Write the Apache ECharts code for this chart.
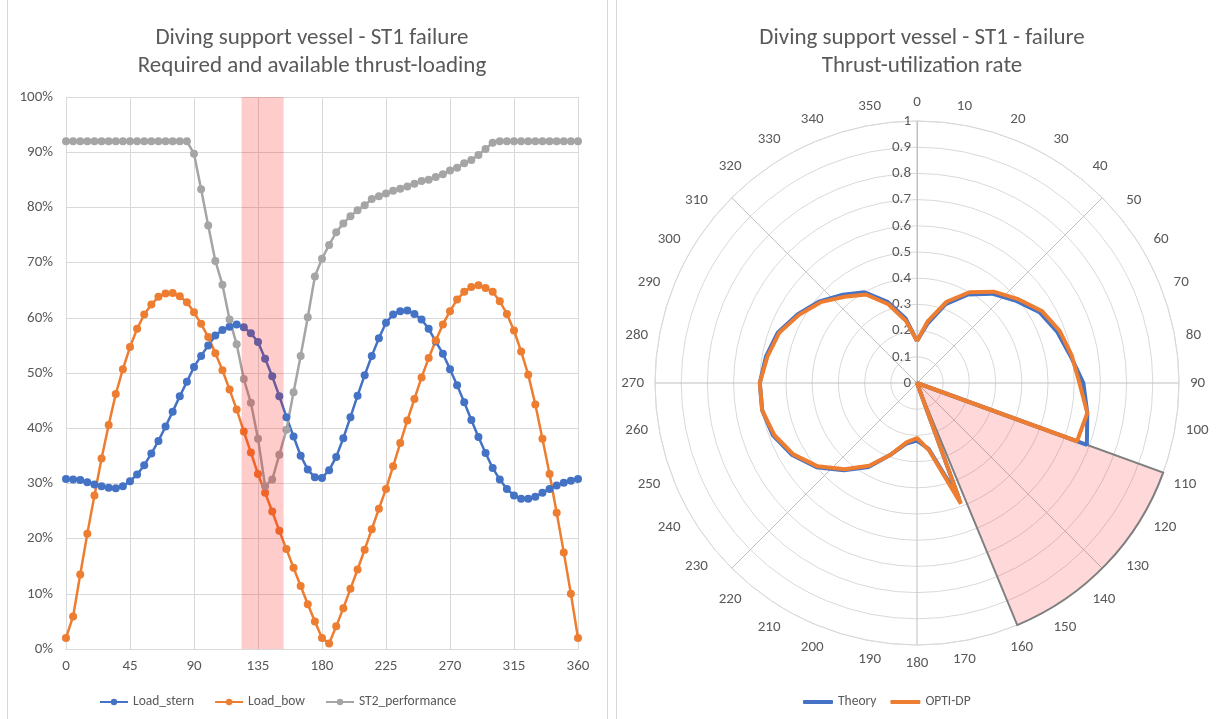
<!DOCTYPE html>
<html>
<head>
<meta charset="utf-8">
<script src="https://cdn.jsdelivr.net/npm/echarts@6/dist/echarts.min.js"></script>
<style>
  html, body { margin: 0; padding: 0; background: #fff; }
  .panel { position: absolute; top: -1px; height: 721px; border: 1px solid #d9d9d9; box-sizing: border-box; }
  #chart { position: absolute; left: 0; top: 0; width: 1217px; height: 719px; }
</style>
</head>
<body>
<div class="panel" style="left:7px;width:601px;"></div>
<div class="panel" style="left:616px;width:605px;"></div>
<div id="chart"></div>
<script>
// left chart: heading in degrees, loads in %
var angles = [0, 5, 10, 15, 20, 25, 30, 35, 40, 45, 50, 55, 60, 65, 70, 75, 80, 85, 90, 95,
  100, 105, 110, 115, 120, 125, 130, 135, 140, 145, 150, 155, 160, 165, 170, 175, 180, 185, 190, 195,
  200, 205, 210, 215, 220, 225, 230, 235, 240, 245, 250, 255, 260, 265, 270, 275, 280, 285, 290, 295,
  300, 305, 310, 315, 320, 325, 330, 335, 340, 345, 350, 355, 360];
var loadStern = [30.8, 30.7, 30.6, 30.2, 29.8, 29.5, 29.2, 29.1, 29.5, 30.4, 31.6, 33.3, 35.4, 37.7, 40.3, 43.0, 45.8, 48.4, 51.1, 53.1,
  55.0, 56.8, 57.8, 58.4, 58.8, 58.3, 57.2, 55.6, 52.6, 49.4, 45.8, 42.0, 38.5, 35.0, 32.5, 31.1, 31.0, 32.4, 34.8, 38.2,
  42.0, 45.9, 49.6, 53.1, 56.3, 59.1, 60.6, 61.2, 61.3, 60.7, 59.7, 58.0, 55.7, 53.5, 50.7, 47.8, 44.7, 41.5, 38.4, 35.5,
  32.8, 30.7, 29.0, 27.8, 27.2, 27.2, 27.6, 28.3, 29.0, 29.6, 30.1, 30.5, 30.8];
var loadBow = [2.0, 5.9, 13.5, 20.9, 27.8, 34.5, 40.6, 46.2, 50.7, 54.7, 58.0, 60.6, 62.4, 63.8, 64.4, 64.5, 63.9, 62.8, 61.0, 58.9,
  56.5, 53.6, 50.5, 47.0, 43.4, 39.4, 35.6, 31.7, 28.3, 24.9, 21.4, 18.1, 14.7, 11.4, 8.1, 5.0, 2.0, 1.0, 4.1, 7.4,
  10.9, 14.4, 18.0, 21.7, 25.4, 29.0, 33.1, 37.3, 41.4, 45.3, 49.2, 52.7, 55.9, 58.8, 61.2, 63.3, 64.7, 65.6, 65.9, 65.4,
  64.7, 63.0, 60.7, 57.7, 53.9, 49.7, 44.3, 38.1, 31.7, 24.7, 17.5, 10.0, 2.0];
var st2Perf = [92, 92, 92, 92, 92, 92, 92, 92, 92, 92, 92, 92, 92, 92, 92, 92, 92, 92, 89.7, 83.3,
  76.7, 70.3, 66.0, 59.7, 55.2, 48.9, 44.6, 38.1, 29.5, 30.7, 35.2, 39.7, 46.5, 53.1, 60.1, 67.5, 70.7, 73.2, 75.5, 77.1,
  78.4, 79.5, 80.4, 81.5, 82.0, 82.5, 83.0, 83.4, 83.8, 84.3, 84.8, 85.0, 85.5, 86.0, 86.7, 87.2, 88.0, 88.6, 89.5, 90.6,
  91.7, 92, 92, 92, 92, 92, 92, 92, 92, 92, 92, 92, 92];
var failBand = [123.5, 153];

// right chart: heading every 10 degrees, utilization rate
var polarAngles = [0, 10, 20, 30, 40, 50, 60, 70, 80, 90, 100, 110, 120, 130, 140, 150, 160, 170, 180,
  190, 200, 210, 220, 230, 240, 250, 260, 270, 280, 290, 300, 310, 320, 330, 340, 350, 360];
var theory = [0.16, 0.23, 0.32, 0.39, 0.445, 0.49, 0.54, 0.57, 0.595, 0.635, 0.66, 0.69, 0, 0, 0, 0, 0.47, 0.255, 0.22,
  0.235, 0.29, 0.37, 0.435, 0.50, 0.55, 0.585, 0.60, 0.60, 0.585, 0.565, 0.525, 0.485, 0.44, 0.40, 0.33, 0.25, 0.16];
var optiDp = [0.16, 0.24, 0.33, 0.40, 0.455, 0.50, 0.55, 0.58, 0.60, 0.62, 0.66, 0.65, 0, 0, 0, 0, 0.49, 0.26, 0.21,
  0.23, 0.29, 0.365, 0.43, 0.495, 0.545, 0.58, 0.60, 0.60, 0.58, 0.56, 0.52, 0.48, 0.43, 0.39, 0.32, 0.24, 0.16];
var failSector = [1, 110, 157.5];

var FONT = 'Carlito, "Liberation Sans Narrow", "Liberation Sans", sans-serif';
var TXT = '#595959';

function pairs(xs, ys) {
  return xs.map(function (x, i) { return [x, ys[i]]; });
}
function polarPairs(as, rs) {
  return as.map(function (a, i) { return [rs[i], a]; });
}

var chart = echarts.init(document.getElementById('chart'));

var lineStyleSeries = function (name, data, color) {
  return {
    name: name, type: 'line', xAxisIndex: 0, yAxisIndex: 0,
    data: data, symbol: 'circle', symbolSize: 8,
    lineStyle: { color: color, width: 2.5 },
    itemStyle: { color: color },
    z: 2
  };
};

var titleStyle = { fontSize: 23, fontWeight: 'normal', color: TXT, lineHeight: 28, fontFamily: FONT };

chart.setOption({
  animation: false,
  textStyle: { fontFamily: FONT },
  title: [{
    text: 'Diving support vessel - ST1 failure\nRequired and available thrust-loading',
    left: 307, top: 19, textAlign: 'center', textStyle: titleStyle
  }, {
    text: 'Diving support vessel - ST1 - failure\nThrust-utilization rate',
    left: 917, top: 19, textAlign: 'center', textStyle: titleStyle
  }],
  legend: [{
    data: ['Load_stern', 'Load_bow', 'ST2_performance'],
    left: 94, top: 690, itemWidth: 28, itemHeight: 8, itemGap: 20,
    textStyle: { fontSize: 13.5, color: TXT, fontFamily: FONT }
  }, {
    data: ['Theory', 'OPTI-DP'],
    left: 798, top: 690, itemWidth: 30, itemHeight: 4, itemGap: 14, icon: 'roundRect',
    textStyle: { fontSize: 13.5, color: TXT, fontFamily: FONT }
  }],
  grid: { left: 66, right: 639, top: 97, bottom: 70 },
  xAxis: {
    type: 'value', min: 0, max: 360, interval: 45,
    axisLine: { lineStyle: { color: '#d9d9d9' } },
    axisTick: { show: false },
    axisLabel: { color: TXT, fontSize: 15, margin: 10 },
    splitLine: { show: true, lineStyle: { color: '#d9d9d9' } }
  },
  yAxis: {
    type: 'value', min: 0, max: 100, interval: 10,
    axisLine: { show: false }, axisTick: { show: false },
    axisLabel: { color: TXT, fontSize: 15, margin: 13, formatter: '{value}%' },
    splitLine: { lineStyle: { color: '#d9d9d9' } }
  },
  polar: [
    { center: [917, 383], radius: 262 },
    { center: [917, 383], radius: 262 }
  ],
  angleAxis: [{
    polarIndex: 0, type: 'value', min: 0, max: 360, interval: 10,
    startAngle: 90, clockwise: true,
    axisLine: { lineStyle: { color: '#d9d9d9' } },
    axisTick: { show: false },
    axisLabel: { color: TXT, fontSize: 15, margin: 11,
      formatter: function (v) { return v === 360 ? '' : String(v); } },
    splitLine: { show: false }
  }, {
    polarIndex: 1, type: 'value', min: 0, max: 360, interval: 45,
    startAngle: 90, clockwise: true,
    axisLine: { show: false }, axisTick: { show: false }, axisLabel: { show: false },
    splitLine: { show: true, lineStyle: { color: '#bfbfbf' } }
  }],
  radiusAxis: [{
    polarIndex: 0, type: 'value', min: 0, max: 1, interval: 0.1,
    axisLine: { lineStyle: { color: '#bfbfbf' } },
    axisTick: { show: false },
    axisLabel: { color: TXT, fontSize: 15, margin: 6 },
    splitLine: { show: true, lineStyle: { color: '#d9d9d9' } }
  }, {
    polarIndex: 1, type: 'value', min: 0, max: 1, show: false,
    splitLine: { show: false }
  }],
  series: [
    lineStyleSeries('Load_stern', pairs(angles, loadStern), '#4472c4'),
    lineStyleSeries('Load_bow', pairs(angles, loadBow), '#ed7d31'),
    lineStyleSeries('ST2_performance', pairs(angles, st2Perf), '#a5a5a5'),
    {
      name: 'band', type: 'custom', xAxisIndex: 0, yAxisIndex: 0, z: 5,
      data: [failBand], silent: true,
      renderItem: function (params, api) {
        var p1 = api.coord([api.value(0), 100]);
        var p2 = api.coord([api.value(1), 0]);
        return { type: 'rect',
          shape: { x: p1[0], y: p1[1], width: p2[0] - p1[0], height: p2[1] - p1[1] },
          style: { fill: 'rgba(255,0,0,0.2)' } };
      }
    },
    {
      name: 'sector', type: 'custom', coordinateSystem: 'polar', polarIndex: 0, z: 1,
      data: [failSector], silent: true,
      renderItem: function (params, api) {
        var c = api.coord([0, 0]);
        var a = api.coord([api.value(0), api.value(1)]);
        var b = api.coord([api.value(0), api.value(2)]);
        var r = Math.sqrt((a[0] - c[0]) * (a[0] - c[0]) + (a[1] - c[1]) * (a[1] - c[1]));
        return { type: 'sector',
          shape: { cx: c[0], cy: c[1], r0: 0, r: r,
            startAngle: Math.atan2(a[1] - c[1], a[0] - c[0]),
            endAngle: Math.atan2(b[1] - c[1], b[0] - c[0]), clockwise: true },
          style: { fill: 'rgba(255,0,0,0.15)', stroke: '#7f7f7f', lineWidth: 2 } };
      }
    },
    {
      name: 'Theory', type: 'line', coordinateSystem: 'polar', polarIndex: 0,
      data: polarPairs(polarAngles, theory), symbol: 'none', z: 3,
      lineStyle: { color: '#4472c4', width: 4 }, itemStyle: { color: '#4472c4' }
    },
    {
      name: 'OPTI-DP', type: 'line', coordinateSystem: 'polar', polarIndex: 0,
      data: polarPairs(polarAngles, optiDp), symbol: 'none', z: 4,
      lineStyle: { color: '#ed7d31', width: 4 }, itemStyle: { color: '#ed7d31' }
    }
  ]
});
</script>
</body>
</html>
